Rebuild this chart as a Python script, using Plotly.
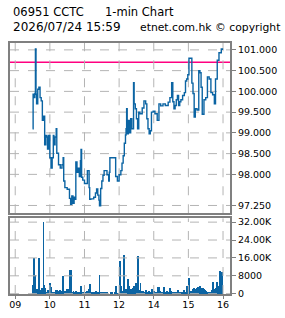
import plotly.graph_objects as go

# ---------------- data ----------------
title_code = "06951 CCTC"
title_kind = "1-min Chart"
stamp = "2026/07/24 15:59"
credit = "etnet.com.hk © copyright"

prev_close = 100.70

price_times = [
    "09:30", "09:31", "09:33", "09:34", "09:35", "09:36", "09:37", "09:39", "09:41", "09:43",
    "09:45", "09:47", "09:49", "09:51", "09:53", "09:55", "09:56", "09:58", "10:00", "10:02",
    "10:04", "10:06", "10:07", "10:09", "10:11", "10:12", "10:15", "10:18", "10:21", "10:23",
    "10:24", "10:26", "10:30", "10:34", "10:36", "10:38", "10:40", "10:42", "10:44", "10:45",
    "10:47", "10:49", "10:51", "10:53", "10:54", "10:55", "10:57", "11:00", "11:05", "11:08",
    "11:09", "11:11", "11:16", "11:19", "11:21", "11:23", "11:25", "11:26", "11:28", "11:30",
    "11:32", "11:34", "11:39", "11:42", "11:43", "11:44", "11:54", "11:57",
    "13:00", "13:03", "13:05", "13:07", "13:09", "13:11", "13:12", "13:13", "13:14", "13:16",
    "13:18", "13:20", "13:22", "13:25", "13:26", "13:28", "13:30", "13:32", "13:34", "13:36",
    "13:40", "13:43", "13:46", "13:48", "13:50", "13:52", "13:54", "13:56", "13:59", "14:02",
    "14:06", "14:09", "14:12", "14:16", "14:20", "14:25", "14:28", "14:31", "14:33", "14:35",
    "14:37", "14:39", "14:41", "14:43", "14:45", "14:47", "14:50", "14:53", "14:55", "14:57",
    "14:59", "15:01", "15:06", "15:08", "15:10", "15:12", "15:15", "15:18", "15:20", "15:22",
    "15:24", "15:27", "15:30", "15:33", "15:36", "15:39", "15:42", "15:45", "15:47", "15:50",
    "15:53", "15:57", "15:59",
]
price_values = [
    99.10, 99.93, 99.85, 99.95, 101.02, 99.93, 99.70, 100.05, 100.10, 99.85,
    99.77, 99.30, 99.40, 98.71, 98.94, 98.90, 98.61, 98.94, 98.40, 98.15,
    98.40, 98.94, 98.71, 98.90, 99.10, 98.51, 98.23, 98.15, 98.23, 98.40,
    97.84, 97.68, 97.64, 97.42, 97.28, 97.48, 97.30, 97.45, 97.40, 98.30,
    98.05, 98.15, 97.95, 98.33, 98.60, 97.93, 97.86, 97.78, 98.09, 97.68,
    97.40, 97.41, 97.45, 97.55, 97.65, 97.50, 97.38, 97.24, 97.66, 97.84,
    97.98, 98.09, 97.99, 97.84, 98.05, 98.40, 97.95, 97.84,
    97.99, 98.09, 98.27, 98.45, 98.75, 98.95, 99.10, 99.58, 98.98, 99.30,
    99.00, 99.34, 99.10, 100.21, 99.70, 99.58, 99.34, 99.10, 99.50, 99.46,
    99.60, 99.77, 99.70, 99.34, 99.10, 98.98, 99.05, 99.50, 99.52, 99.46,
    99.30, 99.70, 99.65, 99.70, 99.66, 99.74, 99.85, 100.21, 99.75, 99.58,
    99.66, 99.80, 99.90, 99.66, 99.75, 99.80, 99.90, 99.97, 100.25, 100.30,
    100.40, 100.80, 100.20, 99.95, 99.38, 99.58, 99.55, 100.50, 100.45, 100.10,
    99.45, 99.80, 99.85, 100.35, 100.30, 99.97, 99.92, 99.70, 100.30, 100.75,
    100.93, 101.02, 101.00,
]

volume_times = [
    "09:30", "09:31", "09:32", "09:33", "09:34", "09:35", "09:36", "09:37", "09:38", "09:39",
    "09:40", "09:41", "09:42", "09:43", "09:44", "09:45", "09:46", "09:47", "09:48", "09:49",
    "09:50", "09:51", "09:52", "09:53", "09:55", "09:56", "09:57", "09:58", "10:00", "10:01",
    "10:02", "10:03", "10:04", "10:05", "10:06", "10:07", "10:08", "10:09", "10:10", "10:11",
    "10:12", "10:13", "10:14", "10:15", "10:16", "10:17", "10:18", "10:19", "10:20", "10:21",
    "10:23", "10:24", "10:25", "10:26", "10:27", "10:28", "10:29", "10:30", "10:31", "10:32",
    "10:33", "10:34", "10:35", "10:36", "10:37", "10:38", "10:39", "10:40", "10:41", "10:42",
    "10:43", "10:44", "10:45", "10:46", "10:47", "10:48", "10:50", "10:52", "10:54", "10:55",
    "10:56", "10:57", "10:58", "10:59", "11:00", "11:02", "11:04", "11:06", "11:08", "11:10",
    "11:12", "11:14", "11:16", "11:18", "11:20", "11:22", "11:24", "11:26", "11:27", "11:28",
    "11:29", "11:30", "11:31", "11:33", "11:35", "11:37", "11:39", "11:45", "11:47", "11:52",
    "11:54", "11:55", "11:58",
    "13:01", "13:02", "13:03", "13:04", "13:05", "13:06", "13:07", "13:09", "13:10", "13:11",
    "13:12", "13:13", "13:15", "13:16", "13:17", "13:18", "13:19", "13:20", "13:21", "13:22",
    "13:23", "13:24", "13:25", "13:26", "13:27", "13:29", "13:30", "13:32", "13:33", "13:34",
    "13:35", "13:36", "13:37", "13:38", "13:39", "13:41", "13:42", "13:43", "13:45", "13:46",
    "13:47", "13:49", "13:51", "13:52", "13:53", "13:55", "13:56", "13:57", "13:58", "14:00",
    "14:01", "14:02", "14:04", "14:06", "14:08", "14:09", "14:10", "14:11", "14:13", "14:15",
    "14:16", "14:18", "14:19", "14:21", "14:23", "14:24", "14:26", "14:28", "14:29", "14:30",
    "14:32", "14:34", "14:36", "14:38", "14:40", "14:42", "14:44", "14:46", "14:48", "14:50",
    "14:52", "14:53", "14:55", "14:57", "14:59", "15:01", "15:02", "15:04", "15:05", "15:07",
    "15:08", "15:09", "15:11", "15:13", "15:14", "15:15", "15:16", "15:17", "15:19", "15:20",
    "15:21", "15:22", "15:23", "15:24", "15:25", "15:26", "15:27", "15:28", "15:29", "15:30",
    "15:32", "15:33", "15:35", "15:37", "15:39", "15:41", "15:42", "15:43", "15:44", "15:45",
    "15:46", "15:47", "15:49", "15:50", "15:51", "15:52", "15:53", "15:54", "15:55", "15:56",
    "15:57", "15:58", "15:59",
]
volume_values = [
    3800, 1200, 15900, 1500, 8200, 1000, 1900, 1500, 1900, 1000,
    800, 16100, 1500, 1200, 1400, 800, 2300, 1500, 2600, 32000,
    3800, 2600, 1200, 800, 600, 1500, 1200, 800, 4800, 1000,
    2900, 600, 900, 800, 900, 700, 900, 600, 800, 1500,
    1200, 1500, 900, 1200, 800, 1500, 700, 1100, 600, 1300,
    7800, 900, 1200, 700, 1200, 600, 1800, 1400, 1800, 700,
    600, 800, 10300, 10300, 1000, 600, 400, 600, 1200, 500,
    800, 300, 500, 1000, 400, 600, 300, 400, 3200, 600,
    800, 300, 500, 600, 300, 400, 1200, 600, 2000, 4400,
    400, 500, 300, 400, 1200, 300, 400, 8200, 600, 400,
    800, 300, 400, 300, 300, 300, 300, 300, 300, 300,
    3500, 300, 200,
    14400, 500, 3500, 600, 800, 1200, 500, 17000, 800, 1200,
    1800, 900, 6500, 2200, 3200, 900, 1200, 1500, 1800, 900,
    1200, 2300, 1800, 3200, 1200, 4900, 1800, 16600, 1200, 800,
    1500, 800, 4700, 1200, 600, 300, 1200, 600, 900, 1500,
    600, 800, 1200, 400, 600, 300, 800, 1800, 600, 1000,
    400, 800, 300, 600, 2900, 2900, 600, 1200, 800, 400,
    800, 2900, 600, 400, 1000, 300, 500, 2300, 2300, 1200,
    400, 800, 600, 400, 300, 1500, 500, 800, 600, 300,
    1500, 600, 400, 3200, 800, 6800, 600, 1100, 1200, 900,
    1900, 2600, 800, 1800, 2400, 1900, 2900, 900, 2300, 3200,
    1200, 2600, 700, 1800, 1200, 2300, 1800, 900, 1600, 1200,
    900, 600, 400, 300, 500, 1500, 5100, 1500, 1800, 600,
    1200, 2300, 5100, 900, 2300, 1800, 3200, 2600, 10000, 4800,
    4800, 2500, 9700,
]

axis_times = ["09:00", "10:00", "11:00", "12:00", "14:00", "15:00", "16:00"]
axis_labels = ["09", "10", "11", "12", "14", "15", "16"]

price_ticks = [97.25, 98.0, 98.5, 99.0, 99.5, 100.0, 100.5, 101.0]
price_tick_text = ["97.250", "98.000", "98.500", "99.000", "99.500", "100.000", "100.500", "101.000"]
vol_ticks = [0, 8000, 16000, 24000, 32000]
vol_tick_text = ["0", "8000", "16.00K", "24.00K", "32.00K"]


def trade_minute(t):
    """Minutes since 09:00 with the 12:00-13:00 lunch break removed."""
    h, mi = map(int, t.split(":"))
    m = h * 60 + mi - 9 * 60
    if h >= 13:
        m -= 60
    return m


px = [trade_minute(t) for t in price_times]
vx = [trade_minute(t) for t in volume_times]
tickpos = [trade_minute(t) for t in axis_times]

BLUE = "#0b64a3"
FRAME = "#808080"
FONT = "DejaVu Sans"

fig = go.Figure()


def grid_xy_vertical(xs, lo, hi):
    gx, gy = [], []
    for v in xs:
        gx += [v, v, None]
        gy += [lo, hi, None]
    return gx, gy


def grid_xy_horizontal(ys, lo, hi):
    gx, gy = [], []
    for v in ys:
        gx += [lo, hi, None]
        gy += [v, v, None]
    return gx, gy


xr = [-9.06, 372.1]
yr_price = [97.062, 101.166]
yr_vol = [-130, 33760]
GRID_STYLE = dict(color="#b4b4b4", width=1, dash="dash")

fig.add_shape(type="line", xref="x domain", yref="y", x0=0, x1=1, y0=prev_close, y1=prev_close,
              line=dict(color="#ff0080", width=1.5), layer="below")

for (gx, gy), xa, ya in [
    (grid_xy_vertical(tickpos, *yr_price), "x", "y"),
    (grid_xy_horizontal(price_ticks, *xr), "x", "y"),
    (grid_xy_vertical(tickpos, *yr_vol), "x2", "y2"),
    (grid_xy_horizontal(vol_ticks, *xr), "x2", "y2"),
]:
    fig.add_trace(go.Scatter(x=gx, y=gy, mode="lines", line=GRID_STYLE, xaxis=xa, yaxis=ya,
                             showlegend=False, hoverinfo="skip", cliponaxis=True))

fig.add_trace(go.Scatter(x=px, y=price_values, mode="lines", line=dict(color=BLUE, width=1.4, shape="hv"),
                         xaxis="x", yaxis="y", showlegend=False, hoverinfo="skip"))
fig.add_trace(go.Bar(x=vx, y=volume_values, width=1.6, marker=dict(color=BLUE, line=dict(width=0)),
                     xaxis="x2", yaxis="y2", showlegend=False, hoverinfo="skip"))

common_x = dict(range=xr, tickvals=tickpos, ticktext=axis_labels, showgrid=False,
                showline=True, mirror=True, linecolor=FRAME, linewidth=2,
                zeroline=False, fixedrange=True)
common_y = dict(side="right", showgrid=False,
                showline=True, mirror=True, linecolor=FRAME, linewidth=2, zeroline=False,
                ticks="outside", ticklen=4, tickcolor=FRAME, tickfont=dict(family=FONT, size=9.5, color="black"))

fig.update_layout(
    width=285, height=318,
    margin=dict(l=8, r=54, t=43, b=20),
    paper_bgcolor="white", plot_bgcolor="white",
    font=dict(family=FONT, size=10, color="black"),
    xaxis=dict(common_x, anchor="y", showticklabels=False, ticks=""),
    xaxis2=dict(common_x, anchor="y2", matches="x", showticklabels=True, ticks="outside", ticklen=3,
                tickcolor=FRAME, ticklabelstandoff=-2, tickfont=dict(family=FONT, size=9.5, color="black")),
    yaxis=dict(common_y, domain=[0.3216, 1.0], range=yr_price, tickvals=price_ticks,
               ticktext=price_tick_text),
    yaxis2=dict(common_y, domain=[0.0, 0.302], range=yr_vol, tickvals=vol_ticks,
                ticktext=vol_tick_text),
    bargap=0,
)

ann = dict(xref="paper", yref="paper", showarrow=False, xanchor="left", yanchor="middle")
fig.add_annotation(ann, x=0.004, y=1.1216, text=title_code, font=dict(family=FONT, size=11.5, color="black"))
fig.add_annotation(ann, x=0.422, y=1.1216, text=title_kind, font=dict(family=FONT, size=11.5, color="black"))
fig.add_annotation(ann, x=0.004, y=1.0627, text=stamp, font=dict(family=FONT, size=12, color="black"))
fig.add_annotation(ann, x=0.583, y=1.0627, text=credit, font=dict(family=FONT, size=10.8, color="black"))

fig.write_html("out.html")
